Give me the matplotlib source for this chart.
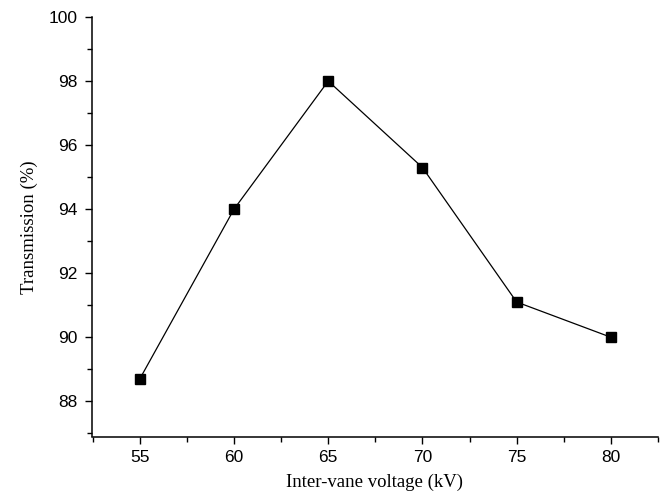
import matplotlib
matplotlib.use("Agg")
import matplotlib.pyplot as plt
from matplotlib.ticker import MultipleLocator

voltage = [55, 60, 65, 70, 75, 80]
transmission = [88.7, 94.0, 98.0, 95.3, 91.1, 90.0]

fig = plt.figure(figsize=(6.7, 5), dpi=100)
ax = fig.add_axes([0.137, 0.127, 0.845, 0.839])

ax.plot(voltage, transmission, color='black', lw=0.9,
        marker='s', markersize=7, markerfacecolor='black', markeredgecolor='black')

ax.set_xlim(52.45, 82.5)
ax.set_ylim(86.9, 100)
ax.xaxis.set_major_locator(MultipleLocator(5))
ax.xaxis.set_minor_locator(MultipleLocator(2.5))
ax.yaxis.set_major_locator(MultipleLocator(2))
ax.yaxis.set_minor_locator(MultipleLocator(1))

for s in ['top', 'right']:
    ax.spines[s].set_visible(False)
for s in ['left', 'bottom']:
    ax.spines[s].set_linewidth(1.1)

ax.tick_params(which='major', direction='out', length=5, width=1, labelsize=12.5, pad=5)
ax.tick_params(which='minor', direction='out', length=3.5, width=1)
for lab in ax.get_xticklabels() + ax.get_yticklabels():
    lab.set_family('Liberation Sans')

ax.set_xlabel('Inter-vane voltage (kV)', family='Liberation Serif', fontsize=13.5, labelpad=6)
ax.set_ylabel('Transmission (%)', family='Liberation Serif', fontsize=13.5, labelpad=8)

fig.savefig('out.png', dpi=100)
